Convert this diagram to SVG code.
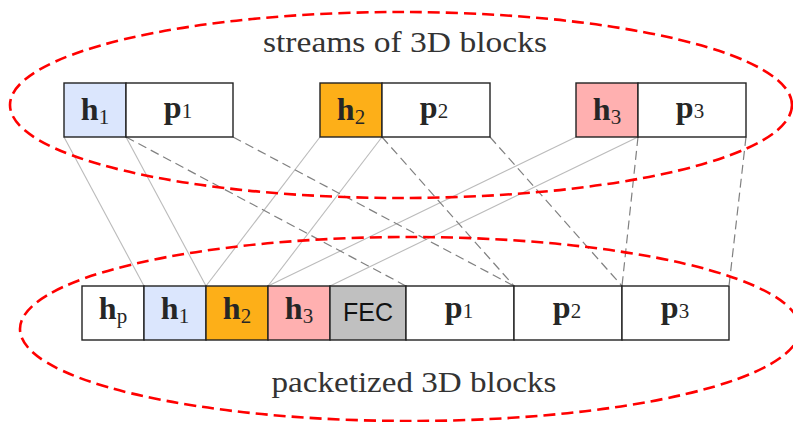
<svg xmlns="http://www.w3.org/2000/svg" width="793" height="422" viewBox="0 0 793 422">
<style>
.box{stroke:#222;stroke-width:1.4}
.lab{font-family:"Liberation Serif","DejaVu Serif",serif;font-size:32px;fill:#262626;text-anchor:middle}
.b{font-weight:bold}
.sub{font-size:21px;font-weight:normal}
.fec{font-family:"Liberation Sans",Arial,sans-serif;font-size:25px;fill:#111;text-anchor:middle}
.title{font-family:"Liberation Serif","DejaVu Serif",serif;font-size:29px;fill:#333;text-anchor:middle}
.solid{stroke:#bbbbbb;stroke-width:1.1;fill:none}
.dash{stroke:#808080;stroke-width:1.2;fill:none;stroke-dasharray:9 5}
.ell{fill:none;stroke:#ff0000;stroke-width:2.6;stroke-dasharray:12 6}
</style>
<rect width="793" height="422" fill="#fff"/>
<g id="connectors">
<line class="solid" x1="64" y1="137" x2="144" y2="286"/>
<line class="solid" x1="126" y1="137" x2="206" y2="286"/>
<line class="solid" x1="320" y1="137" x2="206" y2="286"/>
<line class="solid" x1="382" y1="137" x2="268" y2="286"/>
<line class="solid" x1="576" y1="137" x2="268" y2="286"/>
<line class="solid" x1="638" y1="137" x2="330" y2="286"/>
<line class="dash" x1="126" y1="137" x2="406" y2="286"/>
<line class="dash" x1="233" y1="137" x2="514" y2="286"/>
<line class="dash" x1="382" y1="137" x2="514" y2="286"/>
<line class="dash" x1="490" y1="137" x2="622" y2="286"/>
<line class="dash" x1="638" y1="137" x2="622" y2="286"/>
<line class="dash" x1="746" y1="137" x2="729" y2="286"/>
</g>
<g id="stream1">
<rect class="box" x="64" y="83" width="62" height="54" fill="#dbe6fd"/>
<text class="lab" x="95" y="120"><tspan class="b">h</tspan><tspan class="sub" dy="4">1</tspan></text>
<rect class="box" x="126" y="83" width="107" height="54" fill="#fff"/>
<text class="lab" x="178" y="118"><tspan class="b">p</tspan><tspan class="sub">1</tspan></text>
</g>
<g id="stream2">
<rect class="box" x="320" y="83" width="62" height="54" fill="#fdaf18"/>
<text class="lab" x="351" y="120"><tspan class="b">h</tspan><tspan class="sub" dy="4">2</tspan></text>
<rect class="box" x="382" y="83" width="108" height="54" fill="#fff"/>
<text class="lab" x="434" y="118"><tspan class="b">p</tspan><tspan class="sub">2</tspan></text>
</g>
<g id="stream3">
<rect class="box" x="576" y="83" width="62" height="54" fill="#ffb0b0"/>
<text class="lab" x="607" y="120"><tspan class="b">h</tspan><tspan class="sub" dy="4">3</tspan></text>
<rect class="box" x="638" y="83" width="108" height="54" fill="#fff"/>
<text class="lab" x="690" y="118"><tspan class="b">p</tspan><tspan class="sub">3</tspan></text>
</g>
<g id="packet">
<rect class="box" x="82" y="286" width="62" height="54" fill="#fff"/>
<text class="lab" x="113" y="319"><tspan class="b">h</tspan><tspan class="sub" dy="4">p</tspan></text>
<rect class="box" x="144" y="286" width="62" height="54" fill="#dbe6fd"/>
<text class="lab" x="175" y="319"><tspan class="b">h</tspan><tspan class="sub" dy="4">1</tspan></text>
<rect class="box" x="206" y="286" width="62" height="54" fill="#fdaf18"/>
<text class="lab" x="237" y="319"><tspan class="b">h</tspan><tspan class="sub" dy="4">2</tspan></text>
<rect class="box" x="268" y="286" width="62" height="54" fill="#ffb0b0"/>
<text class="lab" x="299" y="319"><tspan class="b">h</tspan><tspan class="sub" dy="4">3</tspan></text>
<rect class="box" x="330" y="286" width="76" height="54" fill="#c0c0c0"/>
<text class="fec" x="368" y="321">FEC</text>
<rect class="box" x="406" y="286" width="108" height="54" fill="#fff"/>
<text class="lab" x="459" y="318"><tspan class="b">p</tspan><tspan class="sub">1</tspan></text>
<rect class="box" x="514" y="286" width="108" height="54" fill="#fff"/>
<text class="lab" x="567" y="318"><tspan class="b">p</tspan><tspan class="sub">2</tspan></text>
<rect class="box" x="622" y="286" width="107" height="54" fill="#fff"/>
<text class="lab" x="675" y="318"><tspan class="b">p</tspan><tspan class="sub">3</tspan></text>
</g>
<g id="streams-group">
<ellipse class="ell" cx="401" cy="105" rx="391" ry="93"/>
<text class="title" x="405" y="52" textLength="284" lengthAdjust="spacingAndGlyphs">streams of 3D blocks</text>
</g>
<g id="packetized-group">
<ellipse class="ell" cx="410" cy="329" rx="390" ry="92"/>
<text class="title" x="414" y="392" textLength="285" lengthAdjust="spacingAndGlyphs">packetized 3D blocks</text>
</g>
</svg>
